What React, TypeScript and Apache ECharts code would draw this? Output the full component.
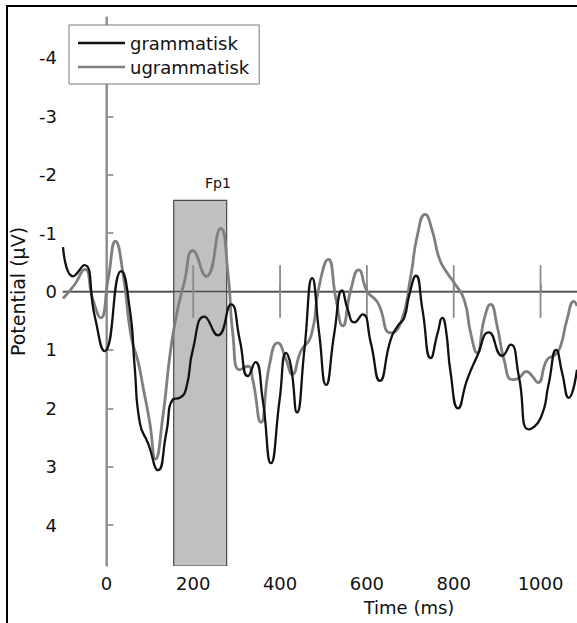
import React, { useEffect, useRef } from "react";
import * as echarts from "echarts";

// ---- data ----
const gramT = [-100, -77, -51, -27, -4, 34, 54, 65, 77, 96, 119, 138, 153, 169, 184, 199, 226, 257, 287, 307, 326, 343, 360, 379, 399, 414, 425, 439, 456, 474, 490, 506, 525, 543, 556, 571, 590, 609, 630, 655, 672, 686, 697, 713, 728, 747, 763, 774, 782, 793, 810, 831, 854, 881, 912, 931, 950, 973, 1000, 1019, 1036, 1050, 1065, 1084];
const gramV = [-0.76, -0.26, -0.45, 0.42, 1.02, -0.35, 0.31, 1.28, 2.25, 2.6, 3.06, 2.42, 1.85, 1.82, 1.65, 1.0, 0.43, 0.75, 0.22, 0.82, 1.45, 1.21, 1.85, 2.94, 1.85, 1.05, 1.28, 2.07, 1.0, -0.23, 0.71, 1.6, 0.71, -0.02, 0.31, 0.53, 0.39, 0.88, 1.53, 0.82, 0.58, 0.45, 0.08, -0.27, 0.31, 1.14, 0.71, 0.45, 0.65, 1.4, 2.0, 1.51, 1.11, 0.7, 1.1, 0.91, 1.45, 2.36, 2.17, 1.57, 1.0, 1.4, 1.82, 1.34];

const ugramT = [-100, -73, -50, -31, -13, 4, 21, 38, 57, 73, 84, 100, 113, 130, 146, 161, 180, 199, 230, 263, 280, 291, 307, 326, 337, 356, 375, 395, 414, 428, 448, 471, 490, 511, 529, 544, 563, 581, 601, 625, 655, 678, 701, 716, 734, 751, 766, 782, 801, 824, 839, 854, 870, 885, 900, 916, 935, 950, 968, 981, 994, 1015, 1034, 1046, 1061, 1077, 1084];
const ugramV = [0.12, -0.12, -0.38, 0.14, 0.45, -0.21, -0.86, -0.32, 0.77, 1.2, 1.62, 2.25, 2.87, 2.14, 1.11, 0.42, -0.18, -0.7, -0.26, -1.08, -0.32, 0.71, 1.34, 1.28, 1.51, 2.24, 1.28, 0.88, 1.17, 1.42, 1.02, 0.77, -0.09, -0.55, 0.14, 0.59, -0.03, -0.37, 0.0, 0.19, 0.71, 0.54, -0.26, -0.95, -1.32, -1.03, -0.58, -0.35, -0.15, 0.14, 0.71, 1.05, 0.48, 0.22, 0.59, 1.17, 1.51, 1.48, 1.37, 1.45, 1.56, 1.17, 1.08, 0.94, 0.48, 0.17, 0.25];

const seriesNames = ["grammatisk", "ugrammatisk"];
const seriesColors = ["#111111", "#7f7f7f"];
const xTickValues = [0, 200, 400, 600, 800, 1000];
const yTickValues = [-4, -3, -2, -1, 0, 1, 2, 3, 4];
const xRange = [-100, 1084];
const yRange = [-4.7, 4.7];

// shaded analysis window
const shadeWindow = [155, 277];
const shadeTop = -1.56;
const shadeLabel = "Fp1";
const shadeLabelPos = [257, -1.86];

// reference lines: [x1, y1, x2, y2]
const zeroLine = [[-100, 0, 1084, 0]];
const onsetLine = [[0, -4.7, 0, 4.7]];
const zeroTickTimes = [200, 400, 600, 800, 1000];
const zeroTickHalf = 0.45;

const FONT = "DejaVu Sans";

export default function App() {
  const ref = useRef<HTMLDivElement>(null);

  useEffect(() => {
    if (!ref.current) return;
    const chart = echarts.init(ref.current, null, { renderer: "svg" });

    const gramData = gramT.map((t, i) => [t, gramV[i]]);
    const ugramData = ugramT.map((t, i) => [t, ugramV[i]]);

    const refLines = [
      ...zeroLine.map((l) => ({ value: l, kind: "zero" })),
      ...onsetLine.map((l) => ({ value: l, kind: "onset" })),
      ...zeroTickTimes.map((t) => ({ value: [t, -zeroTickHalf, t, zeroTickHalf], kind: "tick" })),
    ];

    chart.setOption({
      animation: false,
      backgroundColor: "#ffffff",
      grid: { left: 62, right: 0, top: 17, bottom: 57, containLabel: false },
      legend: {
        data: seriesNames.map((n, i) => ({
          name: n,
          icon: "rect",
          itemStyle: { color: seriesColors[i] },
        })),
        orient: "vertical",
        left: 69,
        top: 25,
        backgroundColor: "#ffffff",
        borderColor: "#7a7a7a",
        borderWidth: 1,
        borderRadius: 0,
        padding: [9, 10, 8, 9],
        itemWidth: 47,
        itemHeight: 2.5,
        itemGap: 6,
        textStyle: { fontFamily: FONT, fontSize: 18, color: "#111", lineHeight: 18 },
      },
      xAxis: {
        type: "value",
        min: xRange[0],
        max: xRange[1],
        axisLine: { show: true, lineStyle: { color: "#808080", width: 1.5 } },
        axisTick: {
          show: true,
          inside: true,
          length: 7,
          customValues: xTickValues,
          lineStyle: { color: "#808080", width: 1.5 },
        },
        axisLabel: {
          customValues: xTickValues,
          fontFamily: FONT,
          fontSize: 18,
          color: "#111",
          margin: 8,
          formatter: (v: number) => String(Math.round(v)),
        },
        splitLine: { show: false },
      },
      yAxis: {
        type: "value",
        inverse: true,
        min: yRange[0],
        max: yRange[1],
        name: "Potential (\u03bcV)",
        nameLocation: "middle",
        nameGap: 36,
        nameTextStyle: { fontFamily: FONT, fontSize: 19, color: "#111" },
        axisLine: { show: true, lineStyle: { color: "#808080", width: 1.5 } },
        axisTick: {
          show: true,
          inside: true,
          length: 7,
          customValues: yTickValues,
          lineStyle: { color: "#808080", width: 1.5 },
        },
        axisLabel: {
          customValues: yTickValues,
          fontFamily: FONT,
          fontSize: 18,
          color: "#111",
          margin: 6,
          formatter: (v: number) => String(Math.round(v)),
        },
        splitLine: { show: false },
      },
      graphic: [
        {
          type: "rect",
          shape: { x: 7, y: 6, width: 800, height: 800 },
          style: { fill: "none", stroke: "#000", lineWidth: 2 },
          silent: true,
          z: 100,
        },
        {
          type: "text",
          x: 409,
          y: 607,
          style: {
            text: "Time (ms)",
            fontFamily: FONT,
            fontSize: 18,
            fill: "#111",
            textAlign: "center",
            textVerticalAlign: "middle",
          },
        },
      ],
      series: [
        {
          type: "custom",
          name: "window",
          z: 1,
          clip: true,
          data: [[shadeWindow[0], shadeWindow[1], shadeTop, yRange[1]]],
          renderItem: (params: any, api: any) => {
            const p1 = api.coord([api.value(0), api.value(2)]);
            const p2 = api.coord([api.value(1), api.value(3)]);
            const lp = api.coord(shadeLabelPos);
            return {
              type: "group",
              children: [
                {
                  type: "rect",
                  shape: { x: p1[0], y: p1[1], width: p2[0] - p1[0], height: p2[1] - p1[1] },
                  style: { fill: "#c0c0c0", stroke: "#4a4a4a", lineWidth: 1.2 },
                },
                {
                  type: "text",
                  x: lp[0],
                  y: lp[1],
                  style: {
                    text: shadeLabel,
                    fontFamily: FONT,
                    fontSize: 14,
                    fill: "#111",
                    textAlign: "center",
                    textVerticalAlign: "middle",
                  },
                },
              ],
            };
          },
        },
        {
          type: "custom",
          name: "refs",
          z: 2,
          clip: true,
          data: refLines,
          renderItem: (params: any, api: any) => {
            const item = refLines[params.dataIndex];
            const a = api.coord([api.value(0), api.value(1)]);
            const b = api.coord([api.value(2), api.value(3)]);
            const color = item.kind === "zero" ? "#4d4d4d" : "#8a8a8a";
            const width = item.kind === "zero" ? 1.3 : 1.8;
            return {
              type: "line",
              shape: { x1: a[0], y1: a[1], x2: b[0], y2: b[1] },
              style: { stroke: color, lineWidth: width },
            };
          },
        },
        {
          type: "line",
          name: seriesNames[1],
          data: ugramData,
          symbol: "none",
          smooth: 0.55,
          z: 3,
          lineStyle: { color: seriesColors[1], width: 2.8 },
          itemStyle: { color: seriesColors[1] },
        },
        {
          type: "line",
          name: seriesNames[0],
          data: gramData,
          symbol: "none",
          smooth: 0.55,
          z: 4,
          lineStyle: { color: seriesColors[0], width: 2.3 },
          itemStyle: { color: seriesColors[0] },
        },
      ],
    });

    return () => chart.dispose();
  }, []);

  return (
    <div
      ref={ref}
      style={{ position: "absolute", left: 0, top: 0, width: 577, height: 623 }}
    />
  );
}
